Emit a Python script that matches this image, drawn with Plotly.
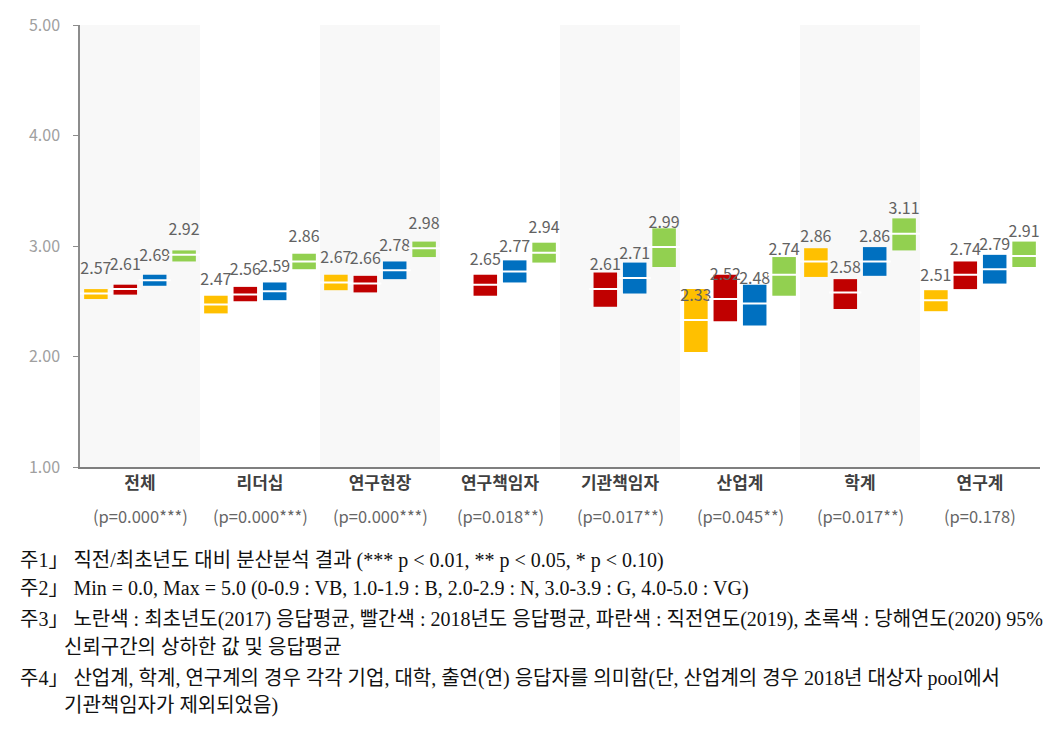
import plotly.graph_objects as go

categories = ["전체", "리더십", "연구현장", "연구책임자", "기관책임자", "산업계", "학계", "연구계"]
p_labels = ["(p=0.000***)", "(p=0.000***)", "(p=0.000***)", "(p=0.018**)",
            "(p=0.017**)", "(p=0.045**)", "(p=0.017**)", "(p=0.178)"]

# 2017 (yellow)
y2017_mean = [2.57, 2.47, 2.67, None, None, 2.33, 2.86, 2.51]
y2017_low  = [2.52, 2.39, 2.60, None, None, 2.04, 2.72, 2.41]
y2017_high = [2.61, 2.55, 2.74, None, None, 2.61, 2.98, 2.60]
# 2018 (red)
y2018_mean = [2.61, 2.56, 2.66, 2.65, 2.61, 2.52, 2.58, 2.74]
y2018_low  = [2.56, 2.50, 2.58, 2.55, 2.45, 2.32, 2.43, 2.61]
y2018_high = [2.65, 2.63, 2.73, 2.74, 2.76, 2.74, 2.70, 2.86]
# 2019 (blue)
y2019_mean = [2.69, 2.59, 2.78, 2.77, 2.71, 2.48, 2.86, 2.79]
y2019_low  = [2.64, 2.51, 2.70, 2.67, 2.57, 2.28, 2.73, 2.66]
y2019_high = [2.74, 2.67, 2.86, 2.87, 2.85, 2.65, 2.99, 2.92]
# 2020 (green)
y2020_mean = [2.92, 2.86, 2.98, 2.94, 2.99, 2.74, 3.11, 2.91]
y2020_low  = [2.86, 2.79, 2.90, 2.85, 2.81, 2.55, 2.96, 2.81]
y2020_high = [2.96, 2.93, 3.04, 3.03, 3.16, 2.90, 3.25, 3.04]

series = [
    ("2017", y2017_mean, y2017_low, y2017_high, "#FFC000"),
    ("2018", y2018_mean, y2018_low, y2018_high, "#C00000"),
    ("2019", y2019_mean, y2019_low, y2019_high, "#0070C0"),
    ("2020", y2020_mean, y2020_low, y2020_high, "#92D050"),
]

notes = [
    ("주1」 직전/최초년도 대비 분산분석 결과 (*** p < 0.01, ** p < 0.05, * p < 0.10)", 18, 563),
    ("주2」 Min = 0.0, Max = 5.0 (0-0.9 : VB, 1.0-1.9 : B, 2.0-2.9 : N, 3.0-3.9 : G, 4.0-5.0 : VG)", 18, 591),
    ("주3」 노란색 : 최초년도(2017) 응답평균, 빨간색 : 2018년도 응답평균, 파란색 : 직전연도(2019), 초록색 : 당해연도(2020) 95%", 18, 623),
    ("신뢰구간의 상하한 값 및 응답평균", 62, 651),
    ("주4」 산업계, 학계, 연구계의 경우 각각 기업, 대학, 출연(연) 응답자를 의미함(단, 산업계의 경우 2018년 대상자 pool에서", 18, 683),
    ("기관책임자가 제외되었음)", 62, 711),
]

W, H = 1060, 730
ML, MR, MT, MB = 80, 20, 15, 263
PW, PH = W - ML - MR, H - MT - MB

fig = go.Figure()

for name, mean, low, high, color in series:
    base = [l if l is not None else None for l in low]
    length = [(h - l) if (h is not None and l is not None) else None for h, l in zip(high, low)]
    fig.add_trace(go.Bar(
        x=categories, y=length, base=base, name=name, offsetgroup=name,
        marker=dict(color=color, line=dict(width=0)),
        hoverinfo="skip", showlegend=False,
    ))
    fig.add_trace(go.Scatter(
        x=categories, y=mean, offsetgroup=name, mode="markers+text",
        text=[f"{m:.2f}" if m is not None else "" for m in mean],
        textposition="top center",
        textfont=dict(family="Noto Sans CJK KR", size=16, color="#626262"),
        marker=dict(symbol="line-ew", size=23, line=dict(width=2, color="white"), color="white"),
        hoverinfo="skip", showlegend=False, cliponaxis=False,
    ))

# alternating shaded bands
for i, c in enumerate(categories):
    if i % 2 == 0:
        fig.add_shape(type="rect", xref="x", yref="paper", x0=c, x1=c,
                      x0shift=-0.5, x1shift=0.5, y0=0, y1=1,
                      fillcolor="#f8f8f8", line=dict(width=0), layer="below")

for c, p in zip(categories, p_labels):
    fig.add_annotation(x=c, xref="x", y=(467 - 517) / PH, yref="paper",
                       text=p, showarrow=False, yanchor="middle",
                       font=dict(family="Noto Sans CJK KR", size=16.5, color="#666666"))

for txt, px, py in notes:
    fig.add_annotation(x=(px - ML) / PW, xref="paper", y=(MT + PH - py) / PH, yref="paper",
                       text=txt, showarrow=False, xanchor="left", yanchor="middle", align="left",
                       font=dict(family="Liberation Serif, Noto Sans CJK KR", size=20, color="#111111"))

fig.update_layout(
    width=W, height=H,
    margin=dict(l=ML, r=MR, t=MT, b=MB),
    paper_bgcolor="white", plot_bgcolor="white",
    barmode="group", bargap=0.02, bargroupgap=0.2,
    scattermode="group",
    showlegend=False,
    font=dict(family="Noto Sans CJK KR"),
)
fig.update_xaxes(
    type="category", categoryorder="array", categoryarray=categories,
    tickmode="array", tickvals=categories,
    ticktext=[f"<b>{c}</b>" for c in categories],
    tickfont=dict(family="Noto Sans CJK KR", size=17, color="#404040"),
    showline=True, linecolor="#7f7f7f", linewidth=1.5, ticks="", showgrid=False,
    range=[-0.5, 7.5], fixedrange=True,
)
fig.update_yaxes(
    range=[1, 5], tickvals=[1, 2, 3, 4, 5], tickformat=".2f",
    tickfont=dict(family="Noto Sans CJK KR", size=16, color="#a0a0a0"),
    showline=True, linecolor="#8c8c8c", linewidth=1.5, ticks="outside", ticklen=5,
    tickcolor="#8c8c8c", showgrid=False, zeroline=False, fixedrange=True,
    ticklabelstandoff=10,
)

fig.write_html("out.html")
